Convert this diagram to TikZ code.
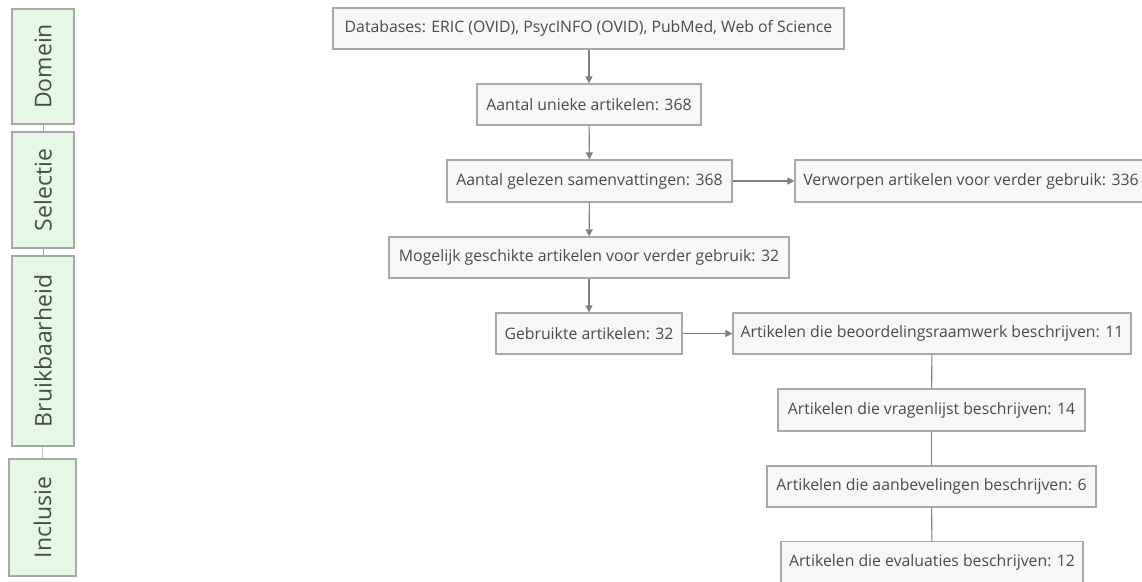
\documentclass[tikz,border=0pt]{standalone}
\usepackage{fontspec}
\setmainfont{Open Sans}
\usetikzlibrary{arrows.meta,positioning}

\definecolor{boxfill}{HTML}{F7F7F7}
\definecolor{boxline}{HTML}{A8A8A8}
\definecolor{fasefill}{HTML}{E5F8E5}
\definecolor{tekst}{HTML}{4A4A4A}
\definecolor{pijl}{HTML}{7F7F7F}

\tikzset{
  stap/.style={draw=boxline, fill=boxfill, line width=1.2pt, text=tekst,
    font=\fontsize{15.8}{18}\selectfont, minimum height=41pt, inner sep=0pt},
  fase/.style={draw=boxline, fill=fasefill, line width=1.2pt, text=tekst,
    font=\fontsize{23}{26}\selectfont, rotate=90, inner sep=0pt},
  pijlstap/.style={draw=pijl, line width=1.1pt, -{Triangle[width=7pt,length=7pt]}},
  lijn/.style={draw=pijl, line width=1.1pt}
}

\begin{document}
\begin{tikzpicture}[x=1pt,y=-1pt]
  \clip (0,0) rectangle (1142,581);
  \useasboundingbox (0,0) rectangle (1142,581);

  % fases links
  \node[fase, minimum width=115pt, minimum height=62pt] (domein) at (43,66.5) {Domein};
  \node[fase, minimum width=116pt, minimum height=62pt] (selectie) at (43,190) {Selectie};
  \node[fase, minimum width=190pt, minimum height=62pt] (bruik) at (43,351) {Bruikbaarheid};
  \node[fase, minimum width=117pt, minimum height=67pt] (inclusie) at (42.5,517.5) {Inclusie};
  \draw[boxline, line width=0.6pt] (domein) -- (selectie);
  \draw[boxline, line width=0.6pt] (selectie) -- (bruik);
  \draw[boxline, line width=0.6pt] (bruik) -- (inclusie);

  % stappen
  \node[stap, minimum width=511pt] (db) at (588.5,28.5) {Databases: ERIC (OVID), PsycINFO (OVID), PubMed, Web of Science};
  \node[stap, minimum width=224pt] (uniek) at (589,104.5) {Aantal unieke artikelen: 368};
  \node[stap, minimum width=285pt, minimum height=42pt] (gelezen) at (589.5,181) {Aantal gelezen samenvattingen: 368};
  \node[stap, minimum width=352pt, minimum height=42pt] (verworpen) at (971,181) {Verworpen artikelen voor verder gebruik: 336};
  \node[stap, minimum width=400pt] (mogelijk) at (589,257.5) {Mogelijk geschikte artikelen voor verder gebruik: 32};
  \node[stap, minimum width=186pt] (gebruikt) at (589,333.5) {Gebruikte artikelen: 32};
  \node[stap, minimum width=398pt] (raamwerk) at (932,333.5) {Artikelen die beoordelingsraamwerk beschrijven: 11};
  \node[stap, minimum width=307pt, minimum height=42pt] (vragen) at (931.5,410) {Artikelen die vragenlijst beschrijven: 14};
  \node[stap, minimum width=329pt] (aanbev) at (931.5,486.5) {Artikelen die aanbevelingen beschrijven: 6};
  \node[stap, minimum width=302pt] (evalu) at (932,562) {Artikelen die evaluaties beschrijven: 12};

  % verbindingen
  \draw[pijlstap] (db.south -| uniek.north) -- (uniek.north);
  \draw[pijlstap] (uniek) -- (gelezen);
  \draw[pijlstap] (gelezen) -- (verworpen);
  \draw[pijlstap] (gelezen) -- (mogelijk);
  \draw[pijlstap] (mogelijk) -- (gebruikt);
  \draw[pijlstap] (gebruikt) -- (raamwerk);
  \draw[lijn] (raamwerk) -- (vragen);
  \draw[lijn] (vragen) -- (aanbev);
  \draw[lijn] (aanbev) -- (evalu);
\end{tikzpicture}
\end{document}
